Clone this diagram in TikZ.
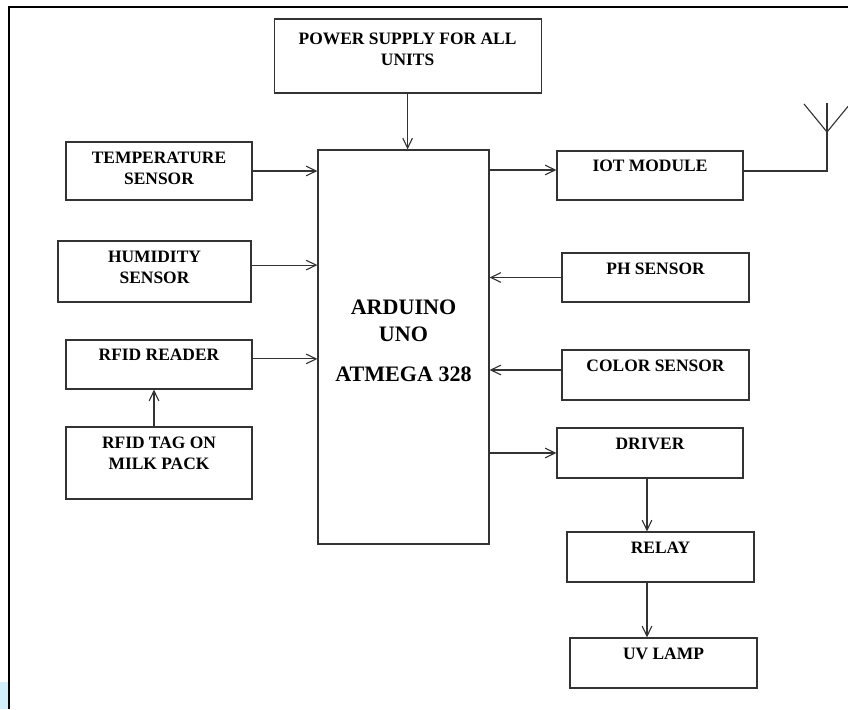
\documentclass[tikz,border=0pt]{standalone}
\usepackage{fontspec}
\setmainfont{Liberation Serif}
\usetikzlibrary{arrows.meta,positioning}
\usepackage{xcolor}

\begin{document}
\begin{tikzpicture}[
    >={Straight Barb[length=2.5mm, width=2.4mm]},
    every node/.style={
        rectangle,
        draw=black!80,
        line width=0.8pt,
        inner sep=0pt
    },
    caption/.style={
        draw=none,
        anchor=north,
        yshift=-#1,
        align=center,
        font=\fontsize{12.4}{14.9}\selectfont\bfseries
    },
    caption/.default=0.25cm
]
    \useasboundingbox (0, 0) rectangle (21.2, 17.725);
    \fill[cyan!18] (0, 0) rectangle (0.2, 0.675);
    \draw[black, line width=1.8pt] (0.225, 0) -- (0.225, 17.55) -- (21.2, 17.55);

    \node (power_supply) [minimum width=6.675cm, minimum height=1.85cm, shift={(10.19, 16.325)},
        label={[caption=0.36cm]north:{POWER SUPPLY FOR ALL\\UNITS}}]
    {};

    \node (arduino) [minimum width=4.275cm, minimum height=9.85cm, shift={(10.0875, 9.05)},
        label={[caption=3.75cm, font=\fontsize{15.7}{19.2}\selectfont\bfseries]north:{ARDUINO\\UNO\\[9.3pt]ATMEGA 328}}]
    {};

    \node (temperature_sensor) [minimum width=4.65cm, minimum height=1.45cm, shift={(3.975, 13.45)},
        label={[caption]north:{TEMPERATURE\\SENSOR}}]
    {};

    \node (humidity_sensor) [minimum width=4.825cm, minimum height=1.525cm, shift={(3.8625, 10.9375)},
        label={[caption]north:{HUMIDITY\\SENSOR}}]
    {};

    \node (rfid_reader) [minimum width=4.65cm, minimum height=1.225cm, shift={(3.975, 8.6125)},
        label={[caption=0.22cm]north:{RFID READER}}]
    {};

    \node (rfid_tag) [minimum width=4.65cm, minimum height=1.8cm, shift={(3.975, 6.15)},
        label={[caption]north:{RFID TAG ON\\MILK PACK}}]
    {};

    \node (iot_module) [minimum width=4.65cm, minimum height=1.225cm, shift={(16.25, 13.3375)},
        label={[caption=0.22cm]north:{IOT MODULE}}]
    {};

    \node (ph_sensor) [minimum width=4.675cm, minimum height=1.225cm, shift={(16.3875, 10.7875)},
        label={[caption]north:{PH SENSOR}}]
    {};

    \node (color_sensor) [minimum width=4.675cm, minimum height=1.25cm, shift={(16.3875, 8.35)},
        label={[caption]north:{COLOR SENSOR}}]
    {};

    \node (driver) [minimum width=4.65cm, minimum height=1.25cm, shift={(16.25, 6.4)},
        label={[caption=0.24cm]north:{DRIVER}}]
    {};

    \node (relay) [minimum width=4.675cm, minimum height=1.25cm, shift={(16.5125, 3.8)},
        label={[caption=0.24cm]north:{RELAY}}]
    {};

    \node (uv_lamp) [minimum width=4.675cm, minimum height=1.25cm, shift={(16.5875, 1.15)},
        label={[caption=0.24cm]north:{UV LAMP}}]
    {};

    % points where the arrows leave or enter off centre
    \coordinate (humidity_out) at ([yshift=0.16cm]humidity_sensor.east);
    \coordinate (reader_out) at ([yshift=0.14cm]rfid_reader.east);
    \coordinate (tag_out) at ([xshift=-0.125cm]rfid_tag.north);
    \coordinate (iot_in) at ([yshift=0.1375cm]iot_module.west);
    \coordinate (color_out) at ([yshift=0.125cm]color_sensor.west);
    \coordinate (driver_out) at ([xshift=-0.075cm]driver.south);

    % antenna
    \coordinate (antenna_base) at (20.675, 13.45);
    \coordinate (antenna_fork) at (20.675, 14.425);
    \coordinate (antenna_top) at (20.675, 15.15);
    \coordinate (antenna_left) at (20.1, 15.125);
    \coordinate (antenna_right) at (21.2, 15.065);

    \draw[->, black!80, line width=0.8pt] (power_supply.south) to (power_supply.south |- arduino.north);

    \draw[->, black!80, line width=0.8pt] (temperature_sensor.east) to (temperature_sensor.east -| arduino.west);
    \draw[->, black!80, line width=0.8pt] (humidity_out) to (humidity_out -| arduino.west);
    \draw[->, black!80, line width=0.8pt] (reader_out) to (reader_out -| arduino.west);
    \draw[->, black!80, line width=0.8pt] (tag_out) to (tag_out |- rfid_reader.south);

    \draw[->, black!80, line width=0.8pt] (iot_in -| arduino.east) to (iot_in);
    \draw[->, black!80, line width=0.8pt] (ph_sensor.west) to (ph_sensor.west -| arduino.east);
    \draw[->, black!80, line width=0.8pt] (color_out) to (color_out -| arduino.east);
    \draw[->, black!80, line width=0.8pt] (driver.west -| arduino.east) to (driver.west);

    \draw[->, black!80, line width=0.8pt] (driver_out) to (driver_out |- relay.north);
    \draw[->, black!80, line width=0.8pt] (driver_out |- relay.south) to (driver_out |- uv_lamp.north);

    \draw[black!80, line width=0.8pt] (iot_module.east |- antenna_base) -- (antenna_base) -- (antenna_top);
    \draw[black!80, line width=0.8pt] (antenna_left) -- (antenna_fork) -- (antenna_right);
\end{tikzpicture}
\end{document}
